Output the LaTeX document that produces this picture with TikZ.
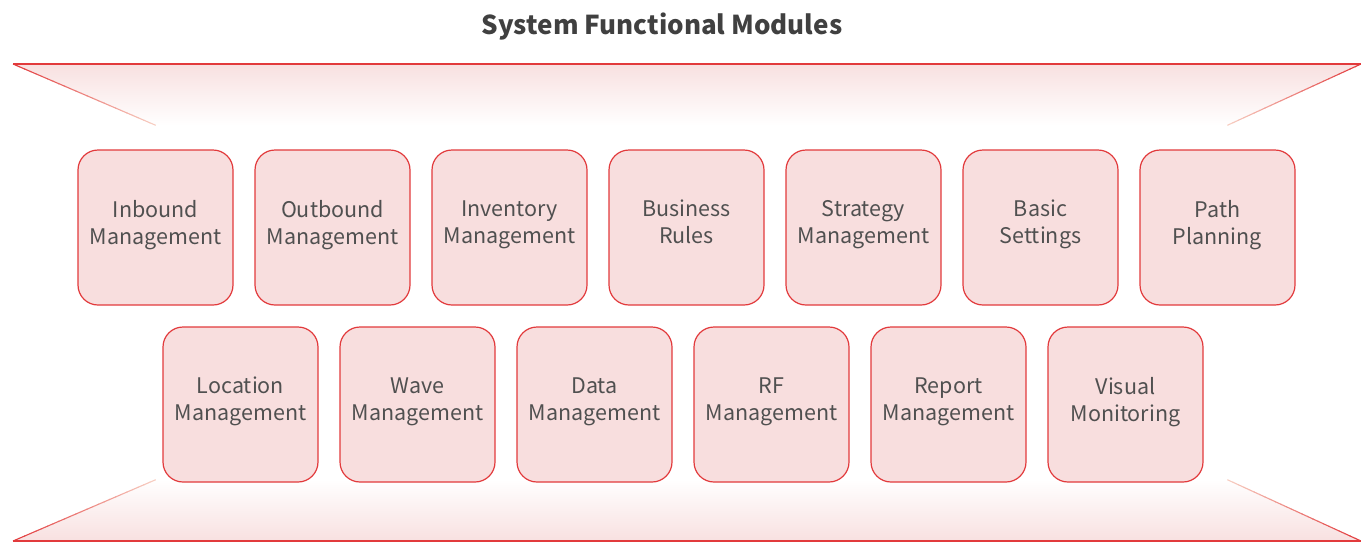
\documentclass[tikz,border=0pt]{standalone}
\usepackage{fontspec}
\setmainfont{Noto Sans CJK SC}
\usetikzlibrary{calc}
\definecolor{modred}{RGB}{226,58,60}
\definecolor{modfill}{RGB}{248,222,222}
\definecolor{modtext}{RGB}{80,80,80}
\definecolor{titletext}{RGB}{64,64,64}
\definecolor{bandtop}{RGB}{248,224,224}
\definecolor{fadeend}{RGB}{250,226,212}
\tikzset{
  module/.style={draw=modred, fill=modfill, line width=1.2pt, rounded corners=20pt,
    minimum width=155pt, minimum height=155pt, align=center, text=modtext,
    font=\fontsize{21.5}{27}\selectfont,
    execute at begin node=\strut, execute at end node={\rule[-11pt]{0pt}{1pt}}},
  edge line/.style={modred, line width=1.2pt},
}
\begin{document}
\begin{tikzpicture}[x=1pt,y=-1pt]
  \useasboundingbox (0,0) rectangle (1361,542);
  \node[font=\bfseries\fontsize{26}{30}\selectfont, text=titletext] (title) at (662,27) {System Functional Modules};
  % frame corners
  \coordinate (tl) at (13,64);
  \coordinate (tr) at (1361,64);
  \coordinate (tli) at (155,125);
  \coordinate (tri) at (1228,125);
  \coordinate (bl) at (13,541);
  \coordinate (br) at (1361,541);
  \coordinate (bli) at (155,480);
  \coordinate (bri) at (1228,480);
  \shade[top color=bandtop, bottom color=white] (tl) -- (tr) -- (tri) -- (tli) -- cycle;
  \shade[top color=white, bottom color=bandtop] (bli) -- (bri) -- (br) -- (bl) -- cycle;
  \draw[edge line] (tl) -- (tr);
  \draw[edge line] (bl) -- (br);
  \foreach \a/\b in {tl/tli, tr/tri, bl/bli, br/bri}
    \foreach \i in {0,...,24}{
      \pgfmathtruncatemacro\p{100-3.6*\i}
      \draw[line width=1.1pt, modred!\p!fadeend]
        ($(\a)!\i/25!(\b)$) -- ($(\a)!\i/25+0.045!(\b)$);
    }
  \draw
    (155.5,227.5) node[module] (inbound){Inbound\\Management}
    (332.5,227.5) node[module] (outbound){Outbound\\Management}
    (509.5,227.5) node[module] (inventory){Inventory\\Management}
    (686.5,227.5) node[module] (rules){Business\\Rules}
    (863.5,227.5) node[module] (strategy){Strategy\\Management}
    (1040.5,227.5) node[module] (settings){Basic\\Settings}
    (1217.5,227.5) node[module] (path){Path\\Planning};
  \draw
    (240.5,404.5) node[module] (location){Location\\Management}
    (417.5,404.5) node[module] (wave){Wave\\Management}
    (594.5,404.5) node[module] (data){Data\\Management}
    (771.5,404.5) node[module] (rf){RF\\Management}
    (948.5,404.5) node[module] (report){Report\\Management}
    (1125.5,404.5) node[module] (visual){Visual\\Monitoring};
\end{tikzpicture}
\end{document}
